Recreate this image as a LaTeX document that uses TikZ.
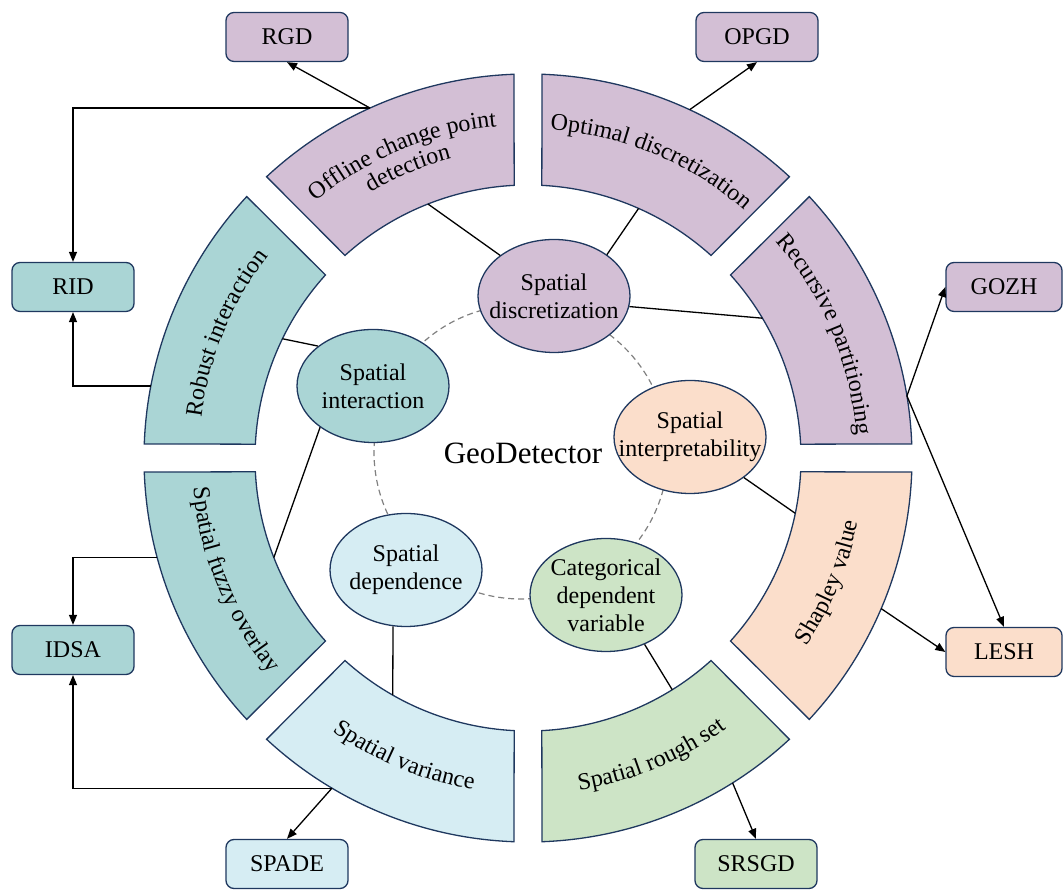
\documentclass[tikz,border=0pt]{standalone}
\usepackage{fontspec}
\setmainfont{Liberation Serif}
\usepackage{tikz}
\usetikzlibrary{arrows.meta,shapes.geometric,calc,decorations.text}

\definecolor{discfill}{HTML}{D3BFD5}
\definecolor{interfill}{HTML}{AAD5D5}
\definecolor{depfill}{HTML}{D6EDF3}
\definecolor{catfill}{HTML}{CDE4C6}
\definecolor{interpfill}{HTML}{FBDECB}
\definecolor{edgeblue}{HTML}{1F385F}

\newcommand{\sectorfont}{\fontsize{24}{26}\selectfont}

\tikzset{
  sector/.style={draw=edgeblue, line width=1.3pt},
  topic/.style={ellipse, draw=edgeblue, line width=1.3pt, minimum width=152pt, minimum height=113pt,
    inner xsep=-20pt, inner ysep=-8pt, align=center, font=\fontsize{24}{28}\selectfont},
  method/.style={rectangle, rounded corners=8pt, draw=edgeblue, line width=1.3pt,
    minimum width=122pt, minimum height=49pt, inner sep=0pt, font=\fontsize{24}{28}\selectfont},
  link/.style={line width=1.3pt, >={Triangle[length=10pt,width=8pt]}},
  ringtext/.style={decorate, decoration={text along path, text align=center, text={|\sectorfont|#1}}},
}

\begin{document}
\begin{tikzpicture}[x=1pt,y=1pt]
		\useasboundingbox (0,0) rectangle (1063,890);
		\coordinate (C) at (528,432);
		%
		% dashed inner circle
		\draw[gray, line width=1.2pt, dash pattern=on 6pt off 4pt] (521,438) circle[radius=147];
		%
		% ring sectors
		\foreach \a/\col in {0/discfill,45/discfill,90/discfill,135/interfill,180/interfill,225/depfill,270/catfill,315/interpfill}{
			\draw[sector, fill=\col] ($(C)+(\a+2.1:384)$) arc[start angle=\a+2.1, end angle=\a+42.9, radius=384]
				-- ($(C)+(\a+42.1:273)$) arc[start angle=\a+42.1, end angle=\a+2.9, radius=273] -- cycle;
		}
		%
		% texts on the ring
		\path[ringtext={Optimal discretization}] ($(C)+(88:329)$) arc[start angle=88, end angle=47, radius=329];
		\path[ringtext={Recursive partitioning}] ($(C)+(43:329)$) arc[start angle=43, end angle=2, radius=329];
		\path[ringtext={Shapley value}] ($(C)+(-43:336)$) arc[start angle=-43, end angle=-2, radius=336];
		\path[ringtext={Spatial rough set}] ($(C)+(272:336)$) arc[start angle=272, end angle=313, radius=336];
		\path[ringtext={Spatial variance}] ($(C)+(227:336)$) arc[start angle=227, end angle=268, radius=336];
		\path[ringtext={Spatial fuzzy overlay}] ($(C)+(182:336)$) arc[start angle=182, end angle=223, radius=336];
		\path[ringtext={Robust interaction}] ($(C)+(178:329)$) arc[start angle=178, end angle=137, radius=329];
		\path[ringtext={Offline change point}] ($(C)+(133:333)$) arc[start angle=133, end angle=92, radius=333];
		\path[ringtext={detection}] ($(C)+(133:309)$) arc[start angle=133, end angle=92, radius=309];
		%
		% points on the ring
		\coordinate (offo) at ($(C)+(114.3:384)$);
		\coordinate (offi) at ($(C)+(111.5:273)$);
		\coordinate (opto) at ($(C)+(65.1:384)$);
		\coordinate (opti) at ($(C)+(66.1:273)$);
		\coordinate (reco) at ($(C)+(9.3:384)$);
		\coordinate (reci) at ($(C)+(30.8:273)$);
		\coordinate (shao) at ($(C)+(-23.1:384)$);
		\coordinate (shai) at ($(C)+(-11.7:273)$);
		\coordinate (roso) at ($(C)+(-57.8:384)$);
		\coordinate (rosi) at ($(C)+(-58.1:273)$);
		\coordinate (varo) at ($(C)+(239.3:384)$);
		\coordinate (vari) at ($(C)+(240.3:273)$);
		\coordinate (fuzo) at ($(C)+(195:384)$);
		\coordinate (fuzi) at ($(C)+(201.4:273)$);
		\coordinate (robo) at ($(C)+(169.2:384)$);
		\coordinate (robi) at ($(C)+(154.1:273)$);
		%
		% topics
		\node[topic, fill=discfill] (disc) at (554,594) {Spatial\\discretization};
		\node[topic, fill=interfill] (inter) at (373,504) {Spatial\\interaction};
		\node[topic, fill=interpfill] (interp) at (690,453) {Spatial\\interpretability};
		\node[topic, fill=depfill] (dep) at (406,320) {Spatial\\dependence};
		\node[topic, fill=catfill] (cat) at (606,295) {Categorical\\dependent\\variable};
		\node[font=\fontsize{31}{36}\selectfont] (geo) at (523,437) {GeoDetector};
		%
		% methods
		\node[method, fill=discfill] (RGD) at (287,853) {RGD};
		\node[method, fill=discfill] (OPGD) at (757,853) {OPGD};
		\node[method, fill=interfill] (RID) at (73,603) {RID};
		\node[method, fill=interfill] (IDSA) at (73,240) {IDSA};
		\node[method, fill=depfill] (SPADE) at (287,26) {SPADE};
		\node[method, fill=catfill] (SRSGD) at (756,26) {SRSGD};
		\node[method, fill=discfill, minimum width=116pt] (GOZH) at (1004,603) {GOZH};
		\node[method, fill=interpfill, minimum width=116pt] (LESH) at (1004,238) {LESH};
		%
		\path[link]
		% topic to ring
		(disc.143) edge (offi)
		(disc.38) edge (opti)
		(disc.-8) edge (reci)
		(inter.144) edge (robi)
		(inter.218) edge (fuzi)
		(dep.257) edge (vari)
		(cat.-52) edge (rosi)
		(interp.-37) edge (shai);
		%
		\path[link,->]
		% ring to methods
		(offo) edge (RGD.south)
		(opto) edge (OPGD.south)
		(reco) edge (GOZH.west)
		(reco) edge (LESH.north)
		(shao) edge (LESH.west)
		(roso) edge (SRSGD.north)
		(varo) edge (SPADE.north);
		% elbow arrows
		\draw[link,->] (offo) -| (RID.north);
		\draw[link,->] (robo) -| (RID.south);
		\draw[link,->] (fuzo) -| (IDSA.north);
		\draw[link,->] (varo) -| (IDSA.south);
\end{tikzpicture}
\end{document}
